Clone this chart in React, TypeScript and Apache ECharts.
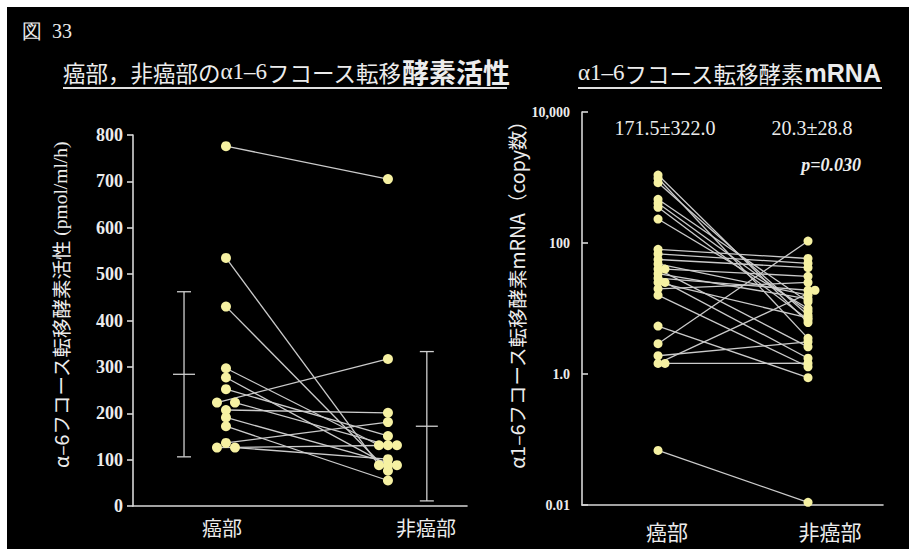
import React, { useEffect, useRef } from 'react';
import * as echarts from 'echarts';

// ---- data ---------------------------------------------------------------
const categories = ['癌部', '非癌部'];

// α1-6 フコース転移酵素活性 (pmol/ml/h): paired cancer / non-cancer tissue
const activityCancer = [776, 535, 430, 297, 277, 252, 223, 223, 207, 191, 172, 136, 126, 126];
const activityNonCancer = [705, 88, 76, 131, 88, 151, 317, 131, 201, 88, 55, 181, 131, 101];
const activityMean = [284, 172];
const activitySD = [178, 161];
const activityTicks = [0, 100, 200, 300, 400, 500, 600, 700, 800];

// α1-6 フコース転移酵素 mRNA (copy数): paired cancer / non-cancer tissue
const mrnaCancer = [1091, 973, 834, 465, 404, 351, 232, 80, 68, 56, 48, 40, 40, 34, 29, 25, 25, 20, 16, 5.4, 2.9, 1.9, 1.45, 1.45, 0.068];
const mrnaNonCancer = [6.1, 3.5, 7.9, 12.7, 9, 6.8, 10, 58, 49, 42, 16, 2.6, 31, 14, 19, 7.2, 1.74, 25, 1.29, 0.88, 107, 3.1, 19, 1.46, 0.011];
const mrnaTicks = [0.01, 1, 100, 10000];
const mrnaTickLabels = ['0.01', '1.0', '100', '10,000'];
const mrnaSummary = ['171.5±322.0', '20.3±28.8'];
const mrnaPValue = 'p=0.030';

// ---- styling ------------------------------------------------------------
const SERIF = '"Liberation Serif", "DejaVu Serif", serif';
const SANS = '"Noto Sans CJK JP", "Noto Sans", sans-serif';
const AXIS_COLOR = '#d6d6d6';
const TEXT_COLOR = '#ececec';
const DOT_COLOR = '#f6f1a2';
const PAIR_LINE = '#cbcbcb';

// Horizontal spread of tied values so overlapping dots stay visible.
function dodge(values: number[], pxPerUnit: number, centered: boolean): number[] {
  const counts = new Map<number, number>();
  values.forEach((v) => counts.set(v, (counts.get(v) || 0) + 1));
  const seen = new Map<number, number>();
  return values.map((v) => {
    const n = counts.get(v) || 1;
    const k = seen.get(v) || 0;
    seen.set(v, k + 1);
    if (n === 1) return 0;
    if (centered) {
      const step = n === 2 ? 18 : 9;
      return ((k - (n - 1) / 2) * step) / pxPerUnit;
    }
    return (k * 7) / pxPerUnit;
  });
}

const log10 = (v: number) => Math.log10(v);

function buildOption(): echarts.EChartsOption {
  // left panel: x units -> 162 px, right panel: 150 px
  const leftPx = 162;
  const rightPx = 150;

  const actXC = dodge(activityCancer, leftPx, true).map((d) => 1 + d);
  const actXN = dodge(activityNonCancer, leftPx, true).map((d) => 2 + d);
  const actPairs = activityCancer.map((v, i) => [actXC[i], v, actXN[i], activityNonCancer[i]]);
  const actDots = [
    ...activityCancer.map((v, i) => [actXC[i], v]),
    ...activityNonCancer.map((v, i) => [actXN[i], v]),
  ];
  const errX = [0.741, 2.24];
  const actErr = activityMean.map((m, i) => [errX[i], m, activitySD[i]]);

  const mXC = dodge(mrnaCancer, rightPx, false).map((d) => 1 + d);
  const mXN = dodge(mrnaNonCancer, rightPx, false).map((d) => 2 + d);
  const mPairs = mrnaCancer.map((v, i) => [mXC[i], log10(v), mXN[i], log10(mrnaNonCancer[i])]);
  const mDots = [
    ...mrnaCancer.map((v, i) => [mXC[i], log10(v)]),
    ...mrnaNonCancer.map((v, i) => [mXN[i], log10(v)]),
  ];

  const pairRender = (params: any, api: any) => {
    const a = api.coord([api.value(0), api.value(1)]);
    const b = api.coord([api.value(2), api.value(3)]);
    return {
      type: 'line',
      shape: { x1: a[0], y1: a[1], x2: b[0], y2: b[1] },
      style: { stroke: PAIR_LINE, lineWidth: 1.3 },
    };
  };

  const errRender = (params: any, api: any) => {
    const x = api.value(0);
    const m = api.value(1);
    const s = api.value(2);
    const top = api.coord([x, m + s]);
    const mid = api.coord([x, m]);
    const bot = api.coord([x, m - s]);
    const st = { stroke: '#d0d0d0', lineWidth: 1.3 };
    return {
      type: 'group',
      children: [
        { type: 'line', shape: { x1: top[0], y1: top[1], x2: bot[0], y2: bot[1] }, style: st },
        { type: 'line', shape: { x1: top[0] - 7, y1: top[1], x2: top[0] + 7, y2: top[1] }, style: st },
        { type: 'line', shape: { x1: bot[0] - 7, y1: bot[1], x2: bot[0] + 7, y2: bot[1] }, style: st },
        { type: 'line', shape: { x1: mid[0] - 11, y1: mid[1], x2: mid[0] + 11, y2: mid[1] }, style: st },
      ],
    };
  };

  const axisLineStyle = { color: AXIS_COLOR, width: 1.6 };
  const tickLabel = (size: number) => ({
    color: TEXT_COLOR,
    fontFamily: SERIF,
    fontWeight: 'bold' as const,
    fontSize: size,
  });

  const cjk = (size: number, weight: any = 'normal') => ({
    fontFamily: SANS,
    fontSize: size,
    fontWeight: weight,
    fill: TEXT_COLOR,
  });

  return {
    animation: false,
    backgroundColor: '#000',
    grid: [
      { left: 133, top: 135, width: 334, height: 371 },
      { left: 582, top: 112, width: 301, height: 393 },
    ],
    xAxis: [
      {
        gridIndex: 0, type: 'value', min: 0.426, max: 2.488,
        axisLine: { show: true, onZero: false, lineStyle: axisLineStyle },
        axisTick: { show: false }, axisLabel: { show: false }, splitLine: { show: false },
      },
      {
        gridIndex: 1, type: 'value', min: 0.493, max: 2.5,
        axisLine: { show: true, onZero: false, lineStyle: axisLineStyle },
        axisTick: { show: false }, axisLabel: { show: false }, splitLine: { show: false },
      },
    ],
    yAxis: [
      {
        gridIndex: 0, type: 'value',
        min: activityTicks[0], max: activityTicks[activityTicks.length - 1],
        interval: activityTicks[1] - activityTicks[0],
        axisLine: { show: true, onZero: false, lineStyle: axisLineStyle },
        axisTick: { show: true, length: 6, lineStyle: axisLineStyle },
        axisLabel: { ...tickLabel(18), margin: 10 },
        splitLine: { show: false },
      },
      {
        gridIndex: 1, type: 'value',
        min: log10(mrnaTicks[0]), max: log10(mrnaTicks[mrnaTicks.length - 1]),
        interval: log10(mrnaTicks[1]) - log10(mrnaTicks[0]),
        axisLine: { show: true, onZero: false, lineStyle: axisLineStyle },
        axisTick: { show: true, inside: true, length: 6, lineStyle: axisLineStyle },
        axisLabel: {
          ...tickLabel(14),
          margin: 12,
          formatter: (v: number) => {
            const i = mrnaTicks.findIndex((t) => Math.abs(log10(t) - v) < 1e-6);
            return i >= 0 ? mrnaTickLabels[i] : '';
          },
        },
        splitLine: { show: false },
      },
    ],
    series: [
      {
        type: 'custom', name: 'activity-pairs', xAxisIndex: 0, yAxisIndex: 0,
        data: actPairs, encode: { x: [0, 2], y: [1, 3] }, renderItem: pairRender as any, z: 2,
      },
      {
        type: 'custom', name: 'activity-sd', xAxisIndex: 0, yAxisIndex: 0,
        data: actErr, encode: { x: 0, y: 1 }, renderItem: errRender as any, z: 2,
      },
      {
        type: 'scatter', name: 'activity', xAxisIndex: 0, yAxisIndex: 0,
        data: actDots, symbolSize: 10, itemStyle: { color: DOT_COLOR, opacity: 1 }, z: 3,
      },
      {
        type: 'custom', name: 'mrna-pairs', xAxisIndex: 1, yAxisIndex: 1,
        data: mPairs, encode: { x: [0, 2], y: [1, 3] }, renderItem: pairRender as any, z: 2,
      },
      {
        type: 'scatter', name: 'mrna', xAxisIndex: 1, yAxisIndex: 1,
        data: mDots, symbolSize: 9, itemStyle: { color: DOT_COLOR, opacity: 1 }, z: 3,
      },
    ],
    graphic: [
      // white frame on the top and left edges
      { type: 'rect', shape: { x: 0, y: 0, width: 909, height: 7 }, style: { fill: '#fff' } },
      { type: 'rect', shape: { x: 0, y: 0, width: 7, height: 549 }, style: { fill: '#fff' } },
      // figure number
      {
        type: 'text', x: 22, y: 31,
        style: {
          text: '図  33', fontFamily: SERIF, fontSize: 20, fill: TEXT_COLOR, verticalAlign: 'middle',
        },
      },
      // panel titles
      {
        type: 'text', x: 63, y: 85,
        style: {
          text: '{a|癌部，非癌部の}{b|α1–6}{a|フコース転移}{c|酵素活性}',
          verticalAlign: 'bottom',
          rich: {
            a: cjk(22.5),
            b: { fontFamily: SERIF, fontSize: 23, fill: TEXT_COLOR },
            c: cjk(27, 'bold'),
          },
        } as any,
      },
      { type: 'line', shape: { x1: 63, y1: 88, x2: 507, y2: 88 }, style: { stroke: '#e0e0e0', lineWidth: 2 } },
      {
        type: 'text', x: 578, y: 85,
        style: {
          text: '{b|α1–6}{a|フコース転移酵素}{c|mRNA}',
          verticalAlign: 'bottom',
          rich: {
            a: cjk(22.5),
            b: { fontFamily: SERIF, fontSize: 23, fill: TEXT_COLOR },
            c: { fontFamily: '"Liberation Sans", Arial, sans-serif', fontSize: 25, fontWeight: 'bold', fill: TEXT_COLOR },
          },
        } as any,
      },
      { type: 'line', shape: { x1: 578, y1: 88, x2: 882, y2: 88 }, style: { stroke: '#e0e0e0', lineWidth: 2 } },
      // axis names
      {
        type: 'text', x: 60, y: 305, rotation: Math.PI / 2,
        style: {
          text: '{a|α–6フコース転移酵素活性 }{b|(pmol/ml/h)}',
          align: 'center', verticalAlign: 'middle',
          rich: {
            a: cjk(19.5),
            b: { fontFamily: SERIF, fontSize: 19.5, fill: TEXT_COLOR },
          },
        } as any,
      },
      {
        type: 'text', x: 516, y: 290, rotation: Math.PI / 2,
        style: {
          text: 'α1–6フコース転移酵素mRNA（copy数）',
          align: 'center', verticalAlign: 'middle',
          ...cjk(19.5),
        } as any,
      },
      // category labels
      { type: 'text', x: 222, y: 527, style: { text: categories[0], align: 'center', verticalAlign: 'middle', ...cjk(20) } as any },
      { type: 'text', x: 426, y: 527, style: { text: categories[1], align: 'center', verticalAlign: 'middle', ...cjk(20) } as any },
      { type: 'text', x: 667, y: 531, style: { text: categories[0], align: 'center', verticalAlign: 'middle', ...cjk(21) } as any },
      { type: 'text', x: 830, y: 531, style: { text: categories[1], align: 'center', verticalAlign: 'middle', ...cjk(21) } as any },
      // summary statistics
      {
        type: 'text', x: 665, y: 128,
        style: { text: mrnaSummary[0], align: 'center', verticalAlign: 'middle', fontFamily: SERIF, fontSize: 20, fill: TEXT_COLOR },
      },
      {
        type: 'text', x: 812, y: 128,
        style: { text: mrnaSummary[1], align: 'center', verticalAlign: 'middle', fontFamily: SERIF, fontSize: 20, fill: TEXT_COLOR },
      },
      {
        type: 'text', x: 831, y: 165,
        style: {
          text: mrnaPValue, align: 'center', verticalAlign: 'middle',
          fontFamily: SERIF, fontSize: 18, fontWeight: 'bold', fontStyle: 'italic', fill: TEXT_COLOR,
        },
      },
    ],
  };
}

export default function App() {
  const ref = useRef<HTMLDivElement>(null);
  useEffect(() => {
    if (!ref.current) return;
    const chart = echarts.init(ref.current, undefined, { renderer: 'svg' });
    chart.setOption(buildOption());
    return () => chart.dispose();
  }, []);
  return <div ref={ref} style={{ position: 'fixed', left: 0, top: 0, width: 909, height: 549 }} />;
}
